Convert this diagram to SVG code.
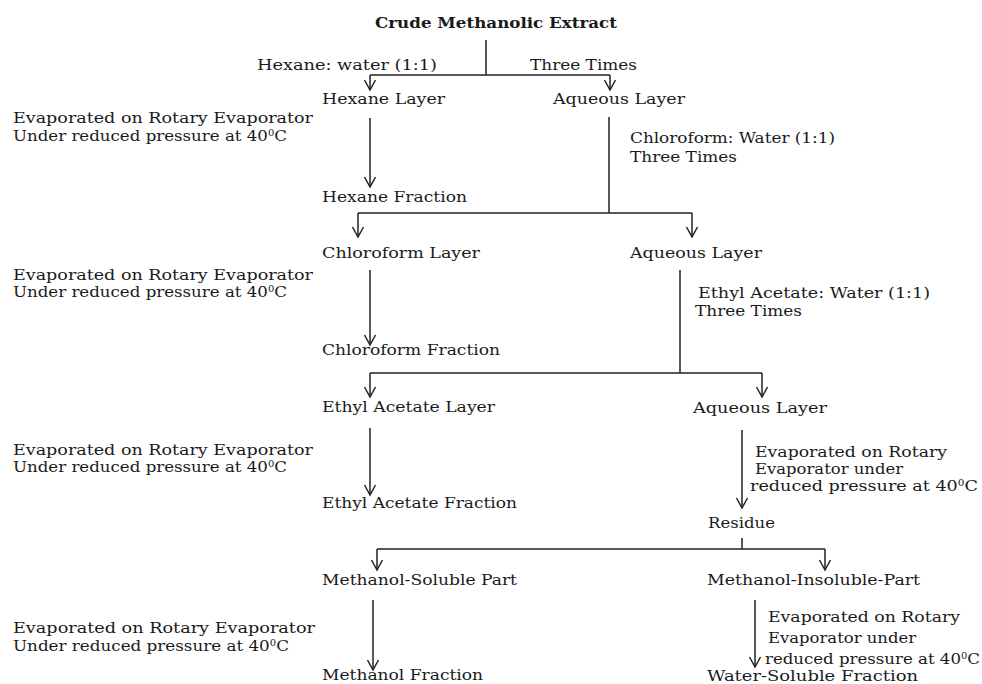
<svg xmlns="http://www.w3.org/2000/svg" width="982" height="684" viewBox="0 0 982 684">
<style>
.t{font-family:"DejaVu Serif","Liberation Serif",serif;font-size:15px;fill:#1a1a1a}
.b{font-weight:bold}
.s{font-size:9px}
.c{stroke:#222;stroke-width:1.5;fill:none}
.a{marker-end:url(#arr)}
</style>
<defs>
<marker id="arr" markerUnits="userSpaceOnUse" markerWidth="14" markerHeight="14" viewBox="-12 -7 14 14" refX="0" refY="0" orient="auto">
<path d="M-10,-5.5 L0,0 L-10,5.5" fill="none" stroke="#222" stroke-width="1.5"/>
</marker>
</defs>
<rect width="982" height="684" fill="#fff"/>

<g id="connectors">
<path class="c" d="M486,40 V75 M370,75 H610"/>
<path class="c a" d="M370,75 V90"/>
<path class="c a" d="M610,75 V90"/>
<path class="c a" d="M370,118 V187"/>
<path class="c" d="M609,117 V213 M358,213 H692"/>
<path class="c a" d="M358,213 V237"/>
<path class="c a" d="M692,213 V237"/>
<path class="c a" d="M370,270 V345"/>
<path class="c" d="M680,270 V373 M370,373 H762"/>
<path class="c a" d="M370,373 V397"/>
<path class="c a" d="M762,373 V397"/>
<path class="c a" d="M370,428 V495"/>
<path class="c a" d="M742,430 V508"/>
<path class="c" d="M742,538 V549 M377,549 H825"/>
<path class="c a" d="M377,549 V570"/>
<path class="c a" d="M825,549 V570"/>
<path class="c a" d="M373,600 V670"/>
<path class="c a" d="M755,600 V667"/>
</g>

<g id="crude"><text class="t b" x="375" y="28" textLength="242" lengthAdjust="spacingAndGlyphs">Crude Methanolic Extract</text></g>
<g id="step1-label"><text class="t" x="257" y="70" textLength="180" lengthAdjust="spacingAndGlyphs">Hexane: water (1:1)</text><text class="t" x="530" y="70" textLength="107" lengthAdjust="spacingAndGlyphs">Three Times</text></g>
<g id="hexane-layer"><text class="t" x="322" y="104" textLength="123" lengthAdjust="spacingAndGlyphs">Hexane Layer</text></g>
<g id="aqueous-1"><text class="t" x="553" y="104" textLength="132" lengthAdjust="spacingAndGlyphs">Aqueous Layer</text></g>
<g id="note-1"><text class="t" x="13" y="123" textLength="300" lengthAdjust="spacingAndGlyphs">Evaporated on Rotary Evaporator</text><text class="t" x="13" y="141" textLength="274" lengthAdjust="spacingAndGlyphs">Under reduced pressure at 40<tspan class="s" dy="-5">0</tspan><tspan dy="5">C</tspan></text></g>
<g id="hexane-fraction"><text class="t" x="322" y="202" textLength="145" lengthAdjust="spacingAndGlyphs">Hexane Fraction</text></g>
<g id="step2-label"><text class="t" x="630" y="143" textLength="205" lengthAdjust="spacingAndGlyphs">Chloroform: Water (1:1)</text><text class="t" x="630" y="162" textLength="107" lengthAdjust="spacingAndGlyphs">Three Times</text></g>
<g id="chloroform-layer"><text class="t" x="322" y="258" textLength="158" lengthAdjust="spacingAndGlyphs">Chloroform Layer</text></g>
<g id="aqueous-2"><text class="t" x="630" y="258" textLength="132" lengthAdjust="spacingAndGlyphs">Aqueous Layer</text></g>
<g id="note-2"><text class="t" x="13" y="280" textLength="300" lengthAdjust="spacingAndGlyphs">Evaporated on Rotary Evaporator</text><text class="t" x="13" y="297" textLength="274" lengthAdjust="spacingAndGlyphs">Under reduced pressure at 40<tspan class="s" dy="-5">0</tspan><tspan dy="5">C</tspan></text></g>
<g id="chloroform-fraction"><text class="t" x="322" y="355" textLength="178" lengthAdjust="spacingAndGlyphs">Chloroform Fraction</text></g>
<g id="step3-label"><text class="t" x="698" y="298" textLength="232" lengthAdjust="spacingAndGlyphs">Ethyl Acetate: Water (1:1)</text><text class="t" x="695" y="316" textLength="107" lengthAdjust="spacingAndGlyphs">Three Times</text></g>
<g id="ethyl-acetate-layer"><text class="t" x="322" y="412" textLength="173" lengthAdjust="spacingAndGlyphs">Ethyl Acetate Layer</text></g>
<g id="aqueous-3"><text class="t" x="693" y="413" textLength="134" lengthAdjust="spacingAndGlyphs">Aqueous Layer</text></g>
<g id="note-3"><text class="t" x="13" y="455" textLength="300" lengthAdjust="spacingAndGlyphs">Evaporated on Rotary Evaporator</text><text class="t" x="13" y="472" textLength="274" lengthAdjust="spacingAndGlyphs">Under reduced pressure at 40<tspan class="s" dy="-5">0</tspan><tspan dy="5">C</tspan></text></g>
<g id="note-aqueous"><text class="t" x="755" y="457" textLength="192" lengthAdjust="spacingAndGlyphs">Evaporated on Rotary</text><text class="t" x="755" y="474" textLength="148" lengthAdjust="spacingAndGlyphs">Evaporator under</text><text class="t" x="750" y="491" textLength="228" lengthAdjust="spacingAndGlyphs">reduced  pressure  at  40<tspan class="s" dy="-5">0</tspan><tspan dy="5">C</tspan></text></g>
<g id="ethyl-acetate-fraction"><text class="t" x="322" y="508" textLength="195" lengthAdjust="spacingAndGlyphs">Ethyl Acetate Fraction</text></g>
<g id="residue"><text class="t" x="708" y="528" textLength="67" lengthAdjust="spacingAndGlyphs">Residue</text></g>
<g id="methanol-soluble"><text class="t" x="322" y="585" textLength="195" lengthAdjust="spacingAndGlyphs">Methanol-Soluble Part</text></g>
<g id="methanol-insoluble"><text class="t" x="707" y="585" textLength="213" lengthAdjust="spacingAndGlyphs">Methanol-Insoluble-Part</text></g>
<g id="note-4"><text class="t" x="13" y="633" textLength="302" lengthAdjust="spacingAndGlyphs">Evaporated on Rotary Evaporator</text><text class="t" x="13" y="651" textLength="276" lengthAdjust="spacingAndGlyphs">Under reduced pressure at 40<tspan class="s" dy="-5">0</tspan><tspan dy="5">C</tspan></text></g>
<g id="note-insoluble"><text class="t" x="768" y="622" textLength="192" lengthAdjust="spacingAndGlyphs">Evaporated on Rotary</text><text class="t" x="768" y="643" textLength="148" lengthAdjust="spacingAndGlyphs">Evaporator under</text><text class="t" x="765" y="664" textLength="215" lengthAdjust="spacingAndGlyphs">reduced pressure  at 40<tspan class="s" dy="-5">0</tspan><tspan dy="5">C</tspan></text></g>
<g id="methanol-fraction"><text class="t" x="322" y="680" textLength="161" lengthAdjust="spacingAndGlyphs">Methanol Fraction</text></g>
<g id="water-soluble"><text class="t" x="707" y="681" textLength="211" lengthAdjust="spacingAndGlyphs">Water-Soluble Fraction</text></g>
</svg>
